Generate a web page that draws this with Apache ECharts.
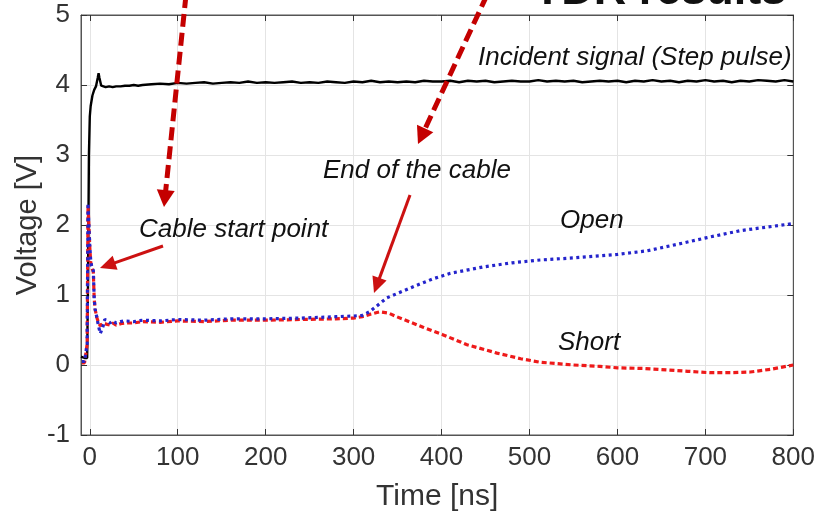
<!DOCTYPE html>
<html><head><meta charset="utf-8">
<script src="https://cdn.jsdelivr.net/npm/echarts@6/dist/echarts.min.js"></script>
<style>html,body{margin:0;padding:0;background:#fff}#c{width:818px;height:519px}</style>
</head><body><div id="c"></div>
<script>
// ---- data ----
const xTicks = [0,100,200,300,400,500,600,700,800];
const incidentT = [-10,-6,-3,-2,-1,0,1,3,5,7,9,10,11,13,15,18,22,26,30,35,40,45,50,55,
  60,70,80,90,100,110,120,130,140,150,160,170,180,190,200,210,220,230,240,250,260,270,280,290,
  300,310,320,330,340,350,360,370,380,390,400,410,420,430,440,450,460,470,480,490,500,510,520,530,540,
  550,560,570,580,590,600,610,620,630,640,650,660,670,680,690,700,710,720,730,740,750,760,770,780,790,800];
const incidentV = [0.12,0.10,0.10,1.20,3.00,3.55,3.70,3.85,3.93,3.98,4.10,4.17,4.10,3.99,3.98,3.97,3.98,3.97,3.98,3.98,3.99,3.99,4.00,3.99,
  4.00,4.01,4.02,4.01,4.03,4.02,4.03,4.04,4.02,4.03,4.04,4.03,4.05,4.03,4.04,4.03,4.04,4.05,4.03,4.04,4.03,4.05,4.04,4.03,
  4.05,4.04,4.06,4.04,4.05,4.04,4.05,4.04,4.06,4.05,4.05,4.06,4.04,4.06,4.05,4.06,4.04,4.05,4.06,4.05,4.05,4.07,4.05,4.06,4.05,
  4.06,4.04,4.05,4.06,4.05,4.06,4.04,4.06,4.05,4.07,4.05,4.06,4.04,4.06,4.05,4.07,4.05,4.06,4.04,4.06,4.05,4.07,4.06,4.05,4.07,4.05];
const openT = [-9,-6,-4,-3,-2,-1,0,1,2,4,5,6,8,10,12,13,15,17,20,23,26,30,35,40,50,60,80,100,130,160,200,240,280,300,310,318,323,338,355,372,390,410,447,480,512,550,600,633,663,702,740,770,800];
const openV = [0.05,0.05,0.06,0.30,2.31,2.00,1.70,1.50,1.42,1.35,0.95,0.80,0.68,0.55,0.45,0.43,0.55,0.65,0.63,0.60,0.63,0.60,0.62,0.63,0.62,0.64,0.63,0.65,0.64,0.66,0.66,0.67,0.69,0.70,0.71,0.76,0.81,0.96,1.05,1.14,1.23,1.31,1.40,1.46,1.50,1.53,1.58,1.63,1.71,1.82,1.92,1.97,2.02];
const shortT = [-9,-6,-4,-3,-2,-1,0,1,2,4,5,6,8,10,12,13,15,17,20,23,26,30,35,40,50,60,80,100,130,160,200,240,280,300,310,320,330,340,349,365,379,402,429,463,490,512,550,580,600,630,656,680,705,730,751,775,800];
const shortV = [0.03,0.03,0.04,0.30,2.28,1.98,1.68,1.48,1.40,1.33,0.95,0.80,0.68,0.60,0.56,0.55,0.60,0.62,0.58,0.57,0.60,0.57,0.59,0.60,0.60,0.62,0.61,0.63,0.62,0.64,0.64,0.65,0.66,0.67,0.69,0.73,0.76,0.74,0.69,0.61,0.54,0.43,0.29,0.17,0.09,0.04,0.00,-0.02,-0.04,-0.05,-0.07,-0.09,-0.11,-0.11,-0.10,-0.06,0.00];

const zip = (a,b) => a.map((v,i)=>[v,b[i]]);
const FONT = '"Liberation Sans", Arial, sans-serif';

function arrow(x1,y1,x2,y2,color,w,dash,hl,hw){
  const dx=x2-x1, dy=y2-y1, L=Math.hypot(dx,dy), ux=dx/L, uy=dy/L;
  const bx=x2-ux*hl, by=y2-uy*hl, px=-uy, py=ux;
  return [
    {type:'line', shape:{x1:x1,y1:y1,x2:bx+ux*2,y2:by+uy*2}, style:{stroke:color,lineWidth:w,lineDash:dash||null}, z:100},
    {type:'polygon', shape:{points:[[x2,y2],[bx+px*hw/2,by+py*hw/2],[bx-px*hw/2,by-py*hw/2]]}, style:{fill:color}, z:100}
  ];
}
function label(x,y,text,align){
  return {type:'text', x:x, y:y, z:101, style:{text:text, fontSize:26, fontStyle:'italic', fontFamily:FONT, fill:'#111', align:align||'left', verticalAlign:'middle'}};
}

const chart = echarts.init(document.getElementById('c'), null, {renderer:'canvas'});
const axisCol = '#555';
chart.setOption({
  animation:false,
  backgroundColor:'#fff',
  grid:{left:81,right:24,top:15,bottom:84,show:true,borderColor:axisCol,borderWidth:1,backgroundColor:'transparent'},
  xAxis:[{
    type:'value', min:-10, max:800, position:'bottom',
    name:'Time [ns]', nameLocation:'middle', nameGap:47, nameMoveOverlap:false,
    nameTextStyle:{fontSize:30, color:'#333', fontFamily:FONT},
    axisLine:{show:true,onZero:false,lineStyle:{color:axisCol}},
    axisTick:{show:true,inside:true,length:6,lineStyle:{color:'#333'},customValues:xTicks},
    axisLabel:{fontSize:26,color:'#333',fontFamily:FONT,margin:10,customValues:xTicks},
    splitLine:{show:true,lineStyle:{color:'#e4e4e4',width:1}}
  },{
    type:'value', min:-10, max:800, position:'top',
    axisLine:{show:true,onZero:false,lineStyle:{color:axisCol}},
    axisTick:{show:true,inside:true,length:6,lineStyle:{color:'#333'},customValues:xTicks},
    axisLabel:{show:false}, splitLine:{show:false}
  }],
  yAxis:[{
    type:'value', min:-1, max:5, interval:1, position:'left',
    name:'Voltage [V]', nameLocation:'middle', nameGap:39, nameMoveOverlap:false,
    nameTextStyle:{fontSize:29, color:'#333', fontFamily:FONT},
    axisLine:{show:true,onZero:false,lineStyle:{color:axisCol}},
    axisTick:{show:true,inside:true,length:6,lineStyle:{color:'#333'}},
    axisLabel:{fontSize:26,color:'#333',fontFamily:FONT,margin:11},
    splitLine:{show:true,lineStyle:{color:'#e4e4e4',width:1}}
  },{
    type:'value', min:-1, max:5, interval:1, position:'right',
    axisLine:{show:true,onZero:false,lineStyle:{color:axisCol}},
    axisTick:{show:true,inside:true,length:6,lineStyle:{color:'#333'}},
    axisLabel:{show:false}, splitLine:{show:false}
  }],
  series:[
    {name:'Short', type:'line', data:zip(shortT,shortV), showSymbol:false, z:3,
     lineStyle:{color:'#ee1a1a', width:3.2, type:[5,3]}},
    {name:'Open', type:'line', data:zip(openT,openV), showSymbol:false, z:4,
     lineStyle:{color:'#2424cc', width:3.2, type:[3,3.5]}},
    {name:'Incident', type:'line', data:zip(incidentT,incidentV), showSymbol:false, z:2,
     lineStyle:{color:'#000', width:2.4}}
  ],
  graphic:[].concat(
    arrow(186,-5,164,207,'#c40000',5,[13,6],17,18),
    arrow(487,-5,418,144,'#c40000',5,[13,6],17,18),
    arrow(163,246,100,268,'#cc1111',3,null,16,15),
    arrow(410,195,374,293,'#cc1111',3,null,16,15),
    [
      label(478,58,'Incident signal (Step pulse)'),
      label(323,171,'End of the cable'),
      label(139,230,'Cable start point'),
      label(560,221,'Open'),
      label(558,343,'Short'),
      {type:'text', x:660, y:-8, z:101, style:{text:'TDR results', fontSize:45, fontWeight:'bold', fontFamily:FONT, fill:'#111', align:'center', verticalAlign:'middle'}}
    ]
  )
});
</script></body></html>
